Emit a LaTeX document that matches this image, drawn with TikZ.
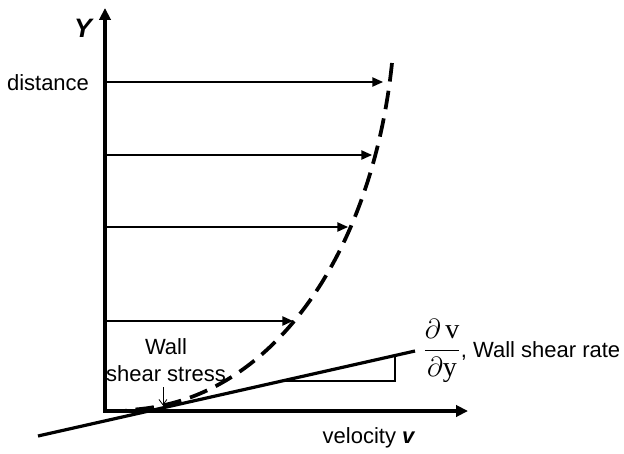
\documentclass[tikz,border=0pt]{standalone}
\usepackage{amsmath}
\usepackage{fontspec}
\setmainfont{Liberation Sans}
\newfontfamily\rmserif{Liberation Serif}
\usetikzlibrary{arrows.meta}

\begin{document}
\begin{tikzpicture}[x=0.75pt, y=-0.75pt, font=\fontsize{16.5}{20}\selectfont]
 \tikzset{axis/.style={line width=2.6pt, {Triangle[length=9pt,width=8.5pt]}-{Triangle[length=9pt,width=8.5pt]}},
   flow/.style={line width=1pt, -{Triangle[length=8pt,width=7pt]}},
   profile/.style={line width=2.8pt, dash pattern=on 14pt off 7pt},
   wall/.style={line width=2.4pt}}
 \useasboundingbox (0,0) rectangle (624,453);

 % axes
 \coordinate (O) at (105,411);
 \coordinate (ytip) at (105,8);
 \coordinate (xtip) at (468,411);
 \draw[axis] (ytip) -- (O) -- (xtip);
 \node[font=\fontsize{20}{24}\selectfont\bfseries\itshape] (ylab) at (83,28) {Y};
 \node (dist) at (48,83) {distance};
 \node (vlab) at (369,438) {velocity \textbf{\textit{v}}};

 % velocity arrows
 \coordinate (u1) at (383,82);
 \coordinate (u2) at (372,155);
 \coordinate (u3) at (348,227);
 \coordinate (u4) at (293,321);
 \foreach \p in {u1,u2,u3,u4}
   \draw[flow] (O |- \p) -- (\p);

 % profile
 \draw[profile] (392,63) .. controls (372,255) and (270,405) .. (126,410);

 % tangent at the wall
 \coordinate (t1) at (38,436);
 \coordinate (t2) at (415,351);
 \draw[wall] (t1) -- (t2);
 \draw[line width=1.7pt] (284,381) -- (395,381) -- (395,356.5);

 \node[align=center] (wss) at (166,360) {Wall\\shear stress};
 \draw[line width=0.6pt, -{Straight Barb[length=4pt,width=6pt]}] ([xshift=-2.3pt,yshift=-1pt]wss.south) -- ++(0,18);

 \node[anchor=west, inner sep=0pt] (rate) at (423,351) {{\fontsize{21}{25}\selectfont$\dfrac{\partial\,\text{\rmserif v}}{\partial\text{\rmserif y}}$}, Wall shear rate};
\end{tikzpicture}
\end{document}
